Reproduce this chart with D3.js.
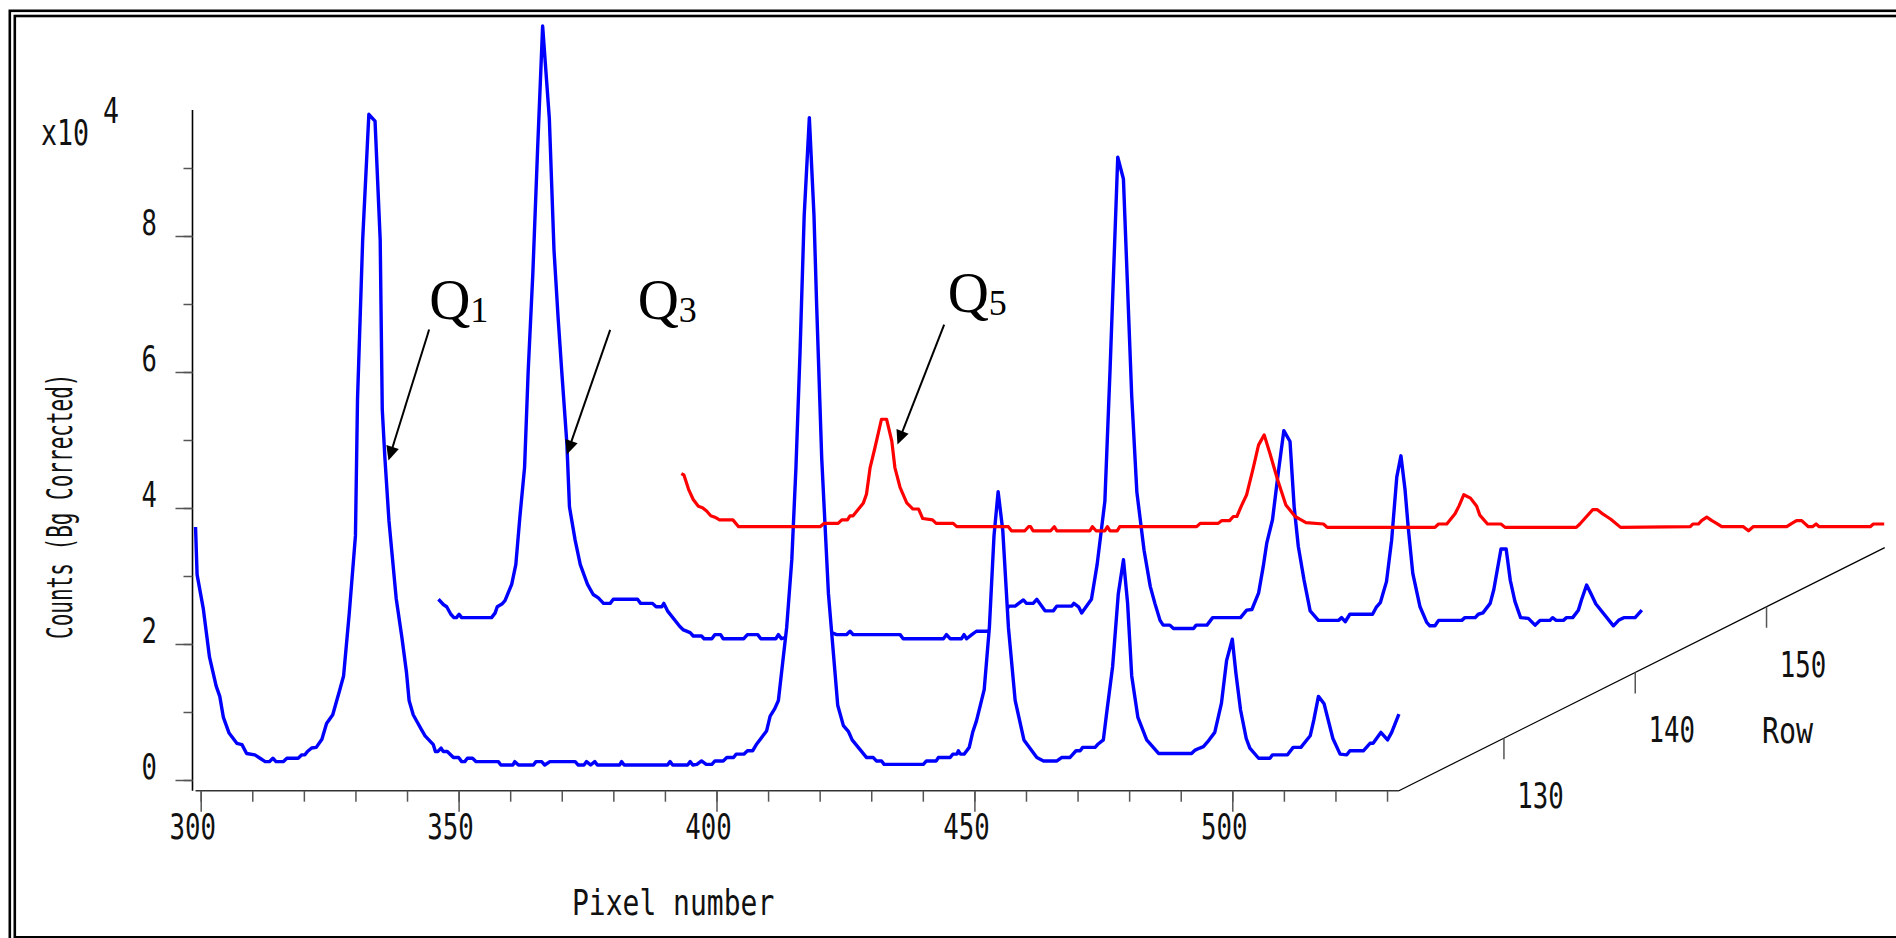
<!DOCTYPE html>
<html>
<head>
<meta charset="utf-8">
<script src="https://cdn.jsdelivr.net/npm/d3@7"></script>
<style>
  body { margin: 0; background: #fff; }
  svg { display: block; }
</style>
</head>
<body>
<div id="chart"></div>
<script>
/* values: [pixel number, counts x1e4] */
var rows = [122, 140.5, 159];

var frontTrace = [
  [299,3.72],[299.3,3.02],[300.5,2.52],[301.7,1.81],[303,1.38],[303.7,1.23],[304.4,0.92],[305.5,0.69],
  [307,0.54],[308,0.52],[308.9,0.39],[310.5,0.37],[311.5,0.32],[312.5,0.27],[313.3,0.27],[314,0.32],
  [314.6,0.27],[316,0.27],[316.7,0.32],[318.9,0.32],[319.6,0.37],[320.2,0.37],[320.7,0.42],[321.5,0.47],
  [322.4,0.48],[323.5,0.6],[324.4,0.83],[325.6,0.96],[326.9,1.31],[327.7,1.53],[328.8,2.45],[330,3.59],
  [330.4,5.59],[331.4,7.94],[332.6,9.79],[333.8,9.69],[334.8,7.94],[335.2,5.45],[335.7,4.75],[336.5,3.81],
  [337.9,2.67],[339,2.1],[339.9,1.58],[340.4,1.17],[341.2,0.96],[342,0.85],[342.8,0.74],[343.5,0.65],
  [345.1,0.52],[345.5,0.42],[346,0.42],[346.6,0.47],[347,0.42],[347.8,0.42],[349,0.33],[350,0.33],
  [350.6,0.27],[351.2,0.27],[351.7,0.32],[352.7,0.32],[353.4,0.27],[357.7,0.27],[358.2,0.22],[360.5,0.22],
  [360.9,0.27],[361.6,0.22],[364.5,0.22],[365,0.27],[366.1,0.27],[366.7,0.22],[367.7,0.27],[372.6,0.27],
  [373.2,0.22],[374.3,0.22],[374.8,0.27],[375.6,0.22],[376.4,0.27],[376.9,0.22],[381.2,0.22],[381.6,0.27],
  [382.1,0.22],[390.5,0.22],[391,0.27],[391.5,0.22],[394.4,0.22],[394.9,0.27],[395.4,0.22],[396.2,0.23],
  [397.1,0.28],[398,0.23],[399.1,0.23],[399.7,0.28],[401.3,0.28],[402,0.33],[403.3,0.33],[403.8,0.38],
  [405.3,0.38],[406,0.43],[407,0.43],[407.8,0.53],[409.7,0.72],[410.4,0.94],[411.3,1.05],[412,1.17],
  [413.6,2.24],[414.6,3.24],[415.4,4.59],[416.2,6.3],[417,8.3],[418,9.74],[418.9,8.3],[419.4,7.02],
  [420.4,4.73],[421.7,2.74],[423.5,1.1],[424.6,0.8],[425.6,0.71],[426.3,0.59],[429.1,0.33],[430.4,0.33],
  [431,0.28],[432,0.28],[432.5,0.23],[440.1,0.23],[440.7,0.28],[442.6,0.28],[443,0.33],[445.3,0.33],
  [445.8,0.38],[446.6,0.38],[446.9,0.43],[447.3,0.38],[448,0.38],[449,0.48],[449.7,0.71],[450.4,0.87],
  [451.9,1.33],[452.9,2.24],[453.8,3.59],[454.6,4.24],[455.5,3.67],[456.6,2.24],[457.9,1.17],[459.6,0.59],
  [462.1,0.33],[463.4,0.28],[466,0.28],[466.9,0.33],[468.5,0.33],[469.7,0.43],[470.5,0.43],[471,0.48],
  [473.4,0.48],[474,0.53],[475,0.59],[475.6,0.96],[476.8,1.67],[477.9,2.74],[478.9,3.24],[479.7,2.6],
  [480.5,1.53],[481.7,0.92],[483.4,0.59],[485.7,0.39],[492.1,0.39],[492.8,0.44],[493.7,0.47],[494.4,0.49],
  [495.2,0.56],[496.6,0.7],[497.9,1.13],[498.9,1.76],[500,2.07],[500.7,1.57],[501.6,1.03],[502.7,0.61],
  [503.4,0.47],[505.1,0.32],[507.3,0.32],[507.8,0.37],[510.7,0.37],[511.8,0.48],[513.3,0.48],[515.1,0.65],
  [515.8,0.88],[516.7,1.23],[517.8,1.12],[519.5,0.61],[520.9,0.38],[522.2,0.37],[522.8,0.43],[525.4,0.43],
  [526.7,0.54],[527.3,0.54],[528.8,0.7],[530.1,0.59],[530.9,0.7],[532.3,0.97]
];

var middleTrace = [
  [299,0.87],[300,0.79],[300.6,0.76],[301.4,0.65],[302,0.6],[302.5,0.6],[303,0.65],[303.5,0.6],
  [309.3,0.6],[310,0.67],[310.4,0.76],[311.3,0.8],[311.9,0.85],[313.2,1.09],[314,1.38],[314.8,2.09],
  [315.7,2.81],[316.4,4.23],[317.3,5.66],[318.2,7.44],[319.2,9.3],[320.5,7.94],[321.4,6.01],[322.2,5.01],
  [322.9,4.23],[323.9,3.16],[324.4,2.23],[325.5,1.74],[326.5,1.38],[327.9,1.09],[329,0.94],[330,0.89],
  [331,0.81],[332.3,0.81],[332.9,0.87],[337.6,0.87],[338.2,0.81],[340.5,0.81],[341.2,0.76],[342.3,0.76],
  [342.7,0.81],[343.4,0.7],[345.8,0.47],[346.5,0.42],[347.8,0.38],[348.4,0.33],[350,0.33],[350.5,0.29],
  [352,0.29],[352.6,0.35],[353.7,0.35],[354.2,0.29],[358.2,0.29],[358.9,0.35],[360.9,0.35],[361.5,0.29],
  [364.4,0.29],[364.9,0.35],[365.5,0.29],[366.4,0.31],[370.5,0.31],[375.2,0.38],[376.2,0.35],[378.1,0.35],
  [378.8,0.4],[379.4,0.35],[388.5,0.35],[389.1,0.29],[396.9,0.29],[397.5,0.35],[398.2,0.29],[400.4,0.29],
  [400.9,0.35],[401.4,0.29],[402.4,0.35],[403.3,0.4],[405.6,0.4],[407.5,0.6],[409.7,0.77],[410.8,0.77],
  [412.4,0.86],[413,0.81],[414.3,0.81],[415,0.87],[416.6,0.7],[418.2,0.7],[418.9,0.77],[421.8,0.77],
  [422.2,0.81],[423.1,0.76],[423.7,0.67],[425.6,0.87],[426.7,1.38],[428.2,2.31],[429.2,4.23],[430.7,7.37],
  [431.8,7.05],[433.4,3.87],[434.4,2.45],[435.8,1.59],[437,1.06],[437.9,0.81],[438.9,0.56],[439.5,0.49],
  [440.8,0.49],[441.5,0.44],[445.4,0.44],[445.9,0.49],[448,0.49],[449.1,0.6],[454.5,0.6],[455.7,0.71],
  [456.7,0.72],[458,0.96],[458.9,1.35],[459.6,1.7],[460.7,2.04],[461.8,2.72],[462.9,3.35],[464.1,3.19],
  [464.9,2.23],[465.7,1.65],[466.8,1.16],[468,0.7],[469.6,0.56],[473.5,0.56],[474.1,0.6],[474.8,0.54],
  [475.7,0.65],[480.1,0.65],[480.8,0.75],[481.6,0.82],[482.8,1.13],[483.8,1.74],[484.8,2.67],[485.6,2.98],
  [486.4,2.48],[487,1.94],[487.9,1.25],[489.3,0.76],[490.6,0.53],[491.2,0.48],[492.2,0.48],[492.9,0.56],
  [497.4,0.56],[498,0.6],[500,0.6],[500.6,0.65],[501.5,0.67],[502.9,0.81],[503.6,1.01],[505,1.61],
  [506,1.61],[506.8,1.15],[507.7,0.84],[508.8,0.6],[510.3,0.59],[511.6,0.49],[512.6,0.56],[514.5,0.56],
  [515,0.6],[515.7,0.56],[517.1,0.56],[517.7,0.6],[518.9,0.6],[520,0.71],[520.6,0.86],[521.6,1.08],
  [522.4,0.96],[523.4,0.8],[526.8,0.48],[527.8,0.56],[528.8,0.6],[531,0.6],[532.3,0.71]
];

var backTrace = [
  [299,0.93],[299.5,0.91],[300.4,0.7],[301.3,0.55],[302.3,0.45],[303.1,0.43],[303.9,0.38],[304.7,0.31],
  [305.5,0.29],[306.4,0.25],[309,0.25],[310.1,0.15],[325.9,0.15],[326.7,0.2],[329.4,0.2],[330.1,0.25],
  [331.2,0.25],[331.7,0.31],[332.3,0.31],[334.3,0.5],[334.9,0.63],[335.6,1.02],[336.5,1.3],[337.8,1.73],
  [338.8,1.73],[339.8,1.41],[340.4,1.02],[341.4,0.73],[342.7,0.5],[343.9,0.41],[345,0.41],[345.8,0.27],
  [347.7,0.25],[348.4,0.2],[351.7,0.2],[352.4,0.15],[362.4,0.15],[363,0.09],[365.6,0.09],[366.3,0.15],
  [366.7,0.15],[367.2,0.09],[370.6,0.09],[371.3,0.15],[371.8,0.09],[378.2,0.09],[378.7,0.15],[379.4,0.09],
  [381.1,0.09],[381.6,0.15],[382.1,0.09],[383.5,0.09],[384,0.15],[398.9,0.15],[399.6,0.2],[403.1,0.2],
  [403.8,0.24],[405.3,0.24],[406,0.3],[406.7,0.3],[407.6,0.46],[408.6,0.62],[409.8,0.99],[410.9,1.35],
  [412,1.5],[413.1,1.23],[414.6,0.84],[416.2,0.47],[418,0.3],[418.9,0.26],[420.1,0.21],[423.5,0.19],
  [424.2,0.14],[445.1,0.14],[445.8,0.19],[447.4,0.19],[449,0.34],[449.8,0.46],[450.7,0.62],[452,0.57],
  [453.2,0.45],[453.8,0.32],[455.3,0.19],[457.9,0.19],[458.7,0.14],[472.5,0.14],[473.2,0.19],[474.5,0.3],
  [475.7,0.4],[476.6,0.4],[477.4,0.35],[478.4,0.3],[479.2,0.26],[481.1,0.14],[494.6,0.15],[495.1,0.19],
  [496.2,0.19],[496.8,0.24],[497.8,0.29],[498.8,0.24],[499.7,0.2],[500.7,0.15],[504.9,0.15],[505.9,0.09],
  [506.8,0.15],[513.3,0.15],[514.3,0.2],[515.2,0.24],[516.2,0.24],[517.5,0.15],[518.3,0.15],[519,0.19],
  [519.6,0.15],[529.5,0.15],[530.1,0.19],[532.2,0.19]
];

var xMinorTicks = [300,310,320,330,340,350,360,370,380,390,400,410,420,430,440,450,460,470,480,490,500,510,520,530];
var xMajorTicks = [300, 350, 400, 450, 500];
var yMinorTicks = [0,1,2,3,4,5,6,7,8,9];
var yMajorTicks = [0, 2, 4, 6, 8];
var rowTicks = [130, 140, 150];
var pixelRange = [299, 532.3];

// arrow tips sit on a trace: [trace index, pixel, counts], subscript text
var annotations = [
  { trace: 0, pixel: 336.4, count: 4.70, sub: "1" },
  { trace: 1, pixel: 323.9, count: 3.00, sub: "3" },
  { trace: 2, pixel: 340.9, count: 1.36, sub: "5" }
];

var W = 1896, H = 938;
var mono = "'DejaVu Sans Mono', 'Liberation Mono', monospace";

var svg = d3.select("#chart").append("svg")
  .attr("width", W).attr("height", H);

/* double frame, running off the right and bottom edge */
svg.append("rect").attr("x", 9.8).attr("y", 10.8).attr("width", 1950).attr("height", 935)
  .attr("fill", "none").attr("stroke", "#000").attr("stroke-width", 2.6);
svg.append("rect").attr("x", 14.8).attr("y", 16).attr("width", 1950).attr("height", 921.3)
  .attr("fill", "none").attr("stroke", "#000").attr("stroke-width", 2.6);

/* scales */
var x = d3.scaleLinear().domain([300, 500]).range([200.7, 1232.3]);
var y = d3.scaleLinear().domain([0, 9]).range([780, 168]);
var rowDx = d3.scaleLinear().domain([122, 159]).range([0, 485.8]);
var rowDy = d3.scaleLinear().domain([122, 159]).range([0, -243.1]);
var xAxisY = 790.7, yAxisX = 192.5;

function squish(sel, str, px, py, sx, anchor, size) {
  return sel.append("text")
    .attr("transform", "translate(" + px + "," + py + ") scale(" + sx + ",1)")
    .attr("text-anchor", anchor)
    .style("font-family", mono)
    .style("font-size", size + "px")
    .attr("fill", "#111")
    .text(str);
}

/* y axis */
svg.append("line").attr("x1", yAxisX).attr("x2", yAxisX).attr("y1", 110).attr("y2", xAxisY)
  .attr("stroke", "#000").attr("stroke-width", 1.6);
var gyMinor = svg.append("g").attr("transform", "translate(" + yAxisX + ",0)")
  .call(d3.axisLeft(y).tickValues(yMinorTicks).tickSize(9).tickFormat(""));
var gyMajor = svg.append("g").attr("transform", "translate(" + yAxisX + ",0)")
  .call(d3.axisLeft(y).tickValues(yMajorTicks).tickSize(17).tickFormat(""));
[gyMinor, gyMajor].forEach(function (g) {
  g.select(".domain").remove();
  g.selectAll(".tick line").attr("stroke", "#555").attr("stroke-width", 1.5);
});
yMajorTicks.forEach(function (v) {
  squish(svg, String(v), 157, y(v) - 1, 0.73, "end", 35);
});
squish(svg, "x10", 41, 145, 0.76, "start", 35);
squish(svg, "4", 103, 123, 0.76, "start", 35);
squish(svg, "Counts (Bg Corrected)", 0, 0, 0.6, "start", 35)
  .attr("transform", "translate(72,639) rotate(-90) scale(0.6,1)");

/* x axis */
svg.append("line").attr("x1", x(pixelRange[0])).attr("x2", x(pixelRange[1]))
  .attr("y1", xAxisY).attr("y2", xAxisY).attr("stroke", "#333").attr("stroke-width", 1.6);
var gxMinor = svg.append("g").attr("transform", "translate(0," + xAxisY + ")")
  .call(d3.axisBottom(x).tickValues(xMinorTicks).tickSize(11).tickFormat(""));
var gxMajor = svg.append("g").attr("transform", "translate(0," + xAxisY + ")")
  .call(d3.axisBottom(x).tickValues(xMajorTicks).tickSize(21).tickFormat(""));
[gxMinor, gxMajor].forEach(function (g) {
  g.select(".domain").remove();
  g.selectAll(".tick line").attr("stroke", "#555").attr("stroke-width", 1.5);
});
xMajorTicks.forEach(function (v) {
  squish(svg, String(v), x(v) - 8, 839, 0.735, "middle", 35);
});
squish(svg, "Pixel number", 572, 915, 0.8, "start", 35);

/* row axis, drawn obliquely from the end of the pixel axis */
var ox = x(pixelRange[1]), oy = xAxisY;
svg.append("line")
  .attr("x1", ox + rowDx(rows[0])).attr("y1", oy + rowDy(rows[0]))
  .attr("x2", ox + rowDx(rows[2])).attr("y2", oy + rowDy(rows[2]))
  .attr("stroke", "#000").attr("stroke-width", 1.2);
rowTicks.forEach(function (r) {
  var tx = ox + rowDx(r), ty = oy + rowDy(r);
  svg.append("line").attr("x1", tx).attr("x2", tx).attr("y1", ty).attr("y2", ty + 21)
    .attr("stroke", "#555").attr("stroke-width", 1.5);
  squish(svg, String(r), tx + 36.5, ty + 70, 0.735, "middle", 35);
});
squish(svg, "Row", 1762, 743, 0.81, "start", 35);

/* traces */
function traceLine(row) {
  return d3.line()
    .x(function (d) { return x(d[0]) + rowDx(row); })
    .y(function (d) { return y(d[1]) + rowDy(row); });
}

// hidden line removal: the middle trace only shows above the front trace
var fl = traceLine(rows[0]);
var fpts = frontTrace.map(function (d) { return [x(d[0]) + rowDx(rows[0]), y(d[1]) + rowDy(rows[0])]; });
var clipPts = [[fpts[0][0], 0]].concat(fpts)
  .concat([[fpts[fpts.length - 1][0], H], [W, H], [W, 0]]);
svg.append("clipPath").attr("id", "behindFront")
  .append("path").attr("d", "M" + clipPts.map(function (p) { return p.join(","); }).join("L") + "Z");

svg.append("path").datum(middleTrace)
  .attr("d", traceLine(rows[1]))
  .attr("clip-path", "url(#behindFront)")
  .attr("fill", "none").attr("stroke", "#0000ff").attr("stroke-width", 3.4)
  .attr("stroke-linejoin", "round");
svg.append("path").datum(frontTrace)
  .attr("d", fl)
  .attr("fill", "none").attr("stroke", "#0000ff").attr("stroke-width", 3.4)
  .attr("stroke-linejoin", "round");
svg.append("path").datum(backTrace)
  .attr("d", traceLine(rows[2]))
  .attr("fill", "none").attr("stroke", "#ff0000").attr("stroke-width", 3.2)
  .attr("stroke-linejoin", "round");

/* Q labels with arrows */
var annLayout = [
  { tail: [40.7, -130.9], text: [40.7, -141.5] },
  { tail: [43.3, -124.6], text: [70.8, -135.2] },
  { tail: [46.7, -119.7], text: [50.2, -132.5] }
];
annotations.forEach(function (a, i) {
  var row = rows[a.trace];
  var tipX = x(a.pixel) + rowDx(row), tipY = y(a.count) + rowDy(row);
  var L = annLayout[i];
  var tx = tipX + L.tail[0], ty = tipY + L.tail[1];
  var dx = tipX - tx, dy = tipY - ty, len = Math.sqrt(dx * dx + dy * dy);
  var ux = dx / len, uy = dy / len, hl = 14, hw = 6.5;
  svg.append("line").attr("x1", tx).attr("y1", ty)
    .attr("x2", tipX - ux * hl * 0.8).attr("y2", tipY - uy * hl * 0.8)
    .attr("stroke", "#000").attr("stroke-width", 2);
  var bx = tipX - ux * hl, by = tipY - uy * hl;
  svg.append("path")
    .attr("d", "M" + tipX + "," + tipY + "L" + (bx - uy * hw) + "," + (by + ux * hw) +
      "L" + (bx + uy * hw) + "," + (by - ux * hw) + "Z")
    .attr("fill", "#000");
  var t = svg.append("text")
    .attr("x", tipX + L.text[0]).attr("y", tipY + L.text[1])
    .style("font-family", "'Liberation Serif', 'Times New Roman', serif")
    .style("font-size", "57px").attr("fill", "#000");
  t.append("tspan").text("Q");
  t.append("tspan").attr("dy", 3).style("font-size", "36px").text(a.sub);
});
</script>
</body>
</html>
